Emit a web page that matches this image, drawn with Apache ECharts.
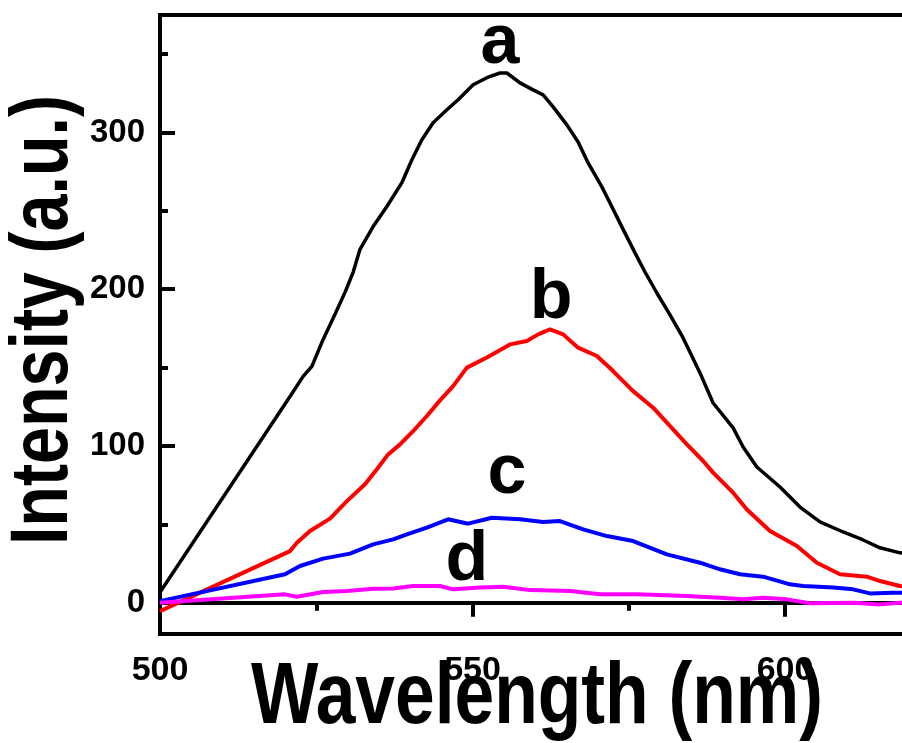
<!DOCTYPE html>
<html>
<head>
<meta charset="utf-8">
<script src="https://cdn.jsdelivr.net/npm/echarts@6/dist/echarts.min.js"></script>
<style>
  html, body { margin: 0; padding: 0; background: #fff; }
  #chart { width: 902px; height: 743px; }
</style>
</head>
<body>
<div id="chart"></div>
<script>
const waveA = [500, 520.8, 522.9, 524.3, 526.1, 528, 529.6, 530.9, 532, 534.1, 536.3, 538.7, 540.3, 541.9, 543.7, 545.9, 547.7, 550.1, 552.3, 554.4, 555.5, 557.6, 559.7, 561.3, 562.9, 565.1, 566.9, 568.5, 570.7, 572, 573.9, 576, 577.6, 579.5, 581.6, 583.7, 586.4, 588.5, 591.7, 593.3, 595.5, 599.2, 602.4, 605.6, 609.3, 612.5, 615.2, 618.4, 620];
const intensityA = [6.6, 131.6, 144.4, 150.8, 168, 184, 198, 210.8, 225.5, 240, 252.8, 268, 282.6, 295.4, 306.2, 314.5, 320.9, 330.5, 335, 338, 338, 331.7, 327.2, 324, 316.4, 304.9, 294, 280.6, 265.3, 255, 239.8, 223.2, 211, 197.6, 183.6, 168.9, 146.6, 127.4, 111.5, 99.3, 86.6, 73.8, 61, 51.6, 45.1, 40, 35, 31.8, 31];

const waveB = [500, 520.8, 521.9, 524, 527.2, 529.9, 532.8, 534.7, 536.5, 538.4, 540.5, 542.7, 544.8, 546.9, 549.1, 552.3, 556, 558.7, 560.5, 562.4, 564.5, 566.9, 569.9, 572.5, 575.7, 578.9, 581.1, 584.3, 586.9, 588.5, 591.7, 593.9, 597.6, 601.9, 605.1, 608.8, 613.1, 615.2, 618.4, 620];
const intensityB = [-5.4, 32.9, 38.3, 45.7, 53.6, 64.8, 75.5, 85.1, 94.6, 101, 109.5, 119.1, 129.1, 138.2, 150, 156.4, 164.8, 167, 171.2, 174.4, 171.2, 162.7, 157.4, 147.8, 135, 124.4, 114.9, 101, 90.4, 83, 70.2, 59.5, 45.7, 36.1, 25.5, 18.1, 16.6, 13.8, 10.6, 10];

const waveC = [500, 520, 522.4, 526.1, 530.4, 534.1, 537.3, 539.5, 542.7, 546.1, 549.3, 553.1, 557.6, 561.3, 564, 567.7, 571.5, 575.7, 581.1, 586.4, 589.6, 592.8, 596.5, 600.8, 602.9, 607.7, 610.9, 613.6, 617.3, 620];
const intensityC = [1, 18.1, 23.4, 28.1, 31.3, 37.2, 40.4, 43.6, 47.9, 53.2, 50.4, 54.2, 53.2, 51.4, 52.1, 46.8, 42.5, 39.3, 30.8, 25.5, 21.3, 18.1, 16.6, 11.7, 10.6, 9.6, 8.5, 5.9, 6.4, 6.4];

const waveD = [500, 520, 521.9, 526.1, 529.9, 534.1, 537.3, 540.5, 544.8, 546.9, 551.2, 554.9, 559.2, 565.6, 570.4, 576.3, 584.3, 589.6, 593.3, 596.5, 600.3, 604, 611, 615.2, 618.4, 620];
const intensityD = [0, 5.3, 3.8, 6.8, 7.4, 8.9, 9.1, 10.6, 10.6, 8.5, 9.6, 10.2, 8, 7.4, 5.3, 5.3, 4.2, 3.2, 2.1, 3.2, 2.1, -0.4, 0, -1.1, 0, 0.5];

const curveNames = ['a', 'b', 'c', 'd'];
const curveColors = ['#000000', '#ff0000', '#0000ff', '#ff00ff'];

// where the letters a-d sit, in data units
const labelX = [554.4, 562.6, 555.5, 549.1];
const labelY = [357, 194, 82.5, 27];

const xMajorTicks = [500, 550, 600];
const xMinorTicks = [525, 575];
const yMajorTicks = [0, 100, 200, 300];
const yMinorTicks = [50, 150, 250, 350];

const FONT = "'Liberation Sans', Arial, sans-serif";

function pairs(xs, ys) {
    return xs.map((x, i) => [x, ys[i]]);
}

const chart = echarts.init(document.getElementById('chart'));

const lineData = [
    pairs(waveA, intensityA),
    pairs(waveB, intensityB),
    pairs(waveC, intensityC),
    pairs(waveD, intensityD)
];

const series = lineData.map((data, i) => ({
    name: curveNames[i],
    type: 'line',
    data: data,
    showSymbol: false,
    symbol: 'none',
    lineStyle: { color: curveColors[i], width: i === 0 ? 3.5 : 4 },
    z: 3
}));

series.push({
    type: 'scatter',
    symbolSize: 1,
    itemStyle: { opacity: 0 },
    data: curveNames.map((n, i) => ({ name: n, value: [labelX[i], labelY[i]] })),
    label: {
        show: true,
        position: 'inside',
        formatter: '{b}',
        fontFamily: FONT,
        fontWeight: 'bold',
        fontSize: 70,
        color: '#000000',
        opacity: 1,
        textBorderWidth: 0
    },
    emphasis: { disabled: true },
    z: 4
});

const axisBase = {
    type: 'value',
    splitLine: { show: false }
};

chart.setOption({
    animation: false,
    backgroundColor: '#fff',
    grid: {
        left: 160,
        top: 15,
        right: -8,
        bottom: 109,
        outerBoundsMode: 'none',
        containLabel: false,
        show: true,
        borderColor: '#000',
        borderWidth: 4
    },
    xAxis: [
        Object.assign({}, axisBase, {
            min: 500,
            max: 620,
            position: 'bottom',
            axisLine: { show: true, lineStyle: { color: '#000', width: 4 } },
            axisTick: { show: true, inside: false, length: 14, lineStyle: { width: 4, color: '#000' }, customValues: xMajorTicks },
            axisLabel: { show: true, margin: 20, customValues: xMajorTicks, fontFamily: FONT, fontWeight: 'bold', fontSize: 34, color: '#000' }
        }),
        Object.assign({}, axisBase, {
            min: 500,
            max: 620,
            position: 'bottom',
            axisLine: { show: false },
            axisTick: { show: true, inside: false, length: 8, lineStyle: { width: 4, color: '#000' }, customValues: xMinorTicks },
            axisLabel: { show: false }
        })
    ],
    yAxis: [
        Object.assign({}, axisBase, {
            min: -20,
            max: 375,
            position: 'left',
            axisLine: { show: true, lineStyle: { color: '#000', width: 4 } },
            axisTick: { show: true, inside: true, length: 15, lineStyle: { width: 4, color: '#000' }, customValues: yMajorTicks },
            axisLabel: { show: true, margin: 15, customValues: yMajorTicks, fontFamily: FONT, fontWeight: 'bold', fontSize: 33, color: '#000' }
        }),
        Object.assign({}, axisBase, {
            min: -20,
            max: 375,
            position: 'left',
            axisLine: { show: false },
            axisTick: { show: true, inside: true, length: 8, lineStyle: { width: 4, color: '#000' }, customValues: yMinorTicks },
            axisLabel: { show: false }
        })
    ],
    // axis titles, drawn narrow like the original's condensed bold face
    graphic: [
        {
            type: 'text',
            x: 537,
            y: 699,
            scaleX: 0.82,
            style: {
                text: 'Wavelength (nm)',
                x: 0, y: 0,
                align: 'center',
                verticalAlign: 'middle',
                font: "bold 87px 'Liberation Sans', Arial, sans-serif",
                fill: '#000'
            }
        },
        {
            type: 'text',
            x: 45,
            y: 320,
            rotation: Math.PI / 2,
            scaleX: 0.82,
            style: {
                text: 'Intensity (a.u.)',
                x: 0, y: 0,
                align: 'center',
                verticalAlign: 'middle',
                font: "bold 81px 'Liberation Sans', Arial, sans-serif",
                fill: '#000'
            }
        }
    ],
    series: series
});
</script>
</body>
</html>
